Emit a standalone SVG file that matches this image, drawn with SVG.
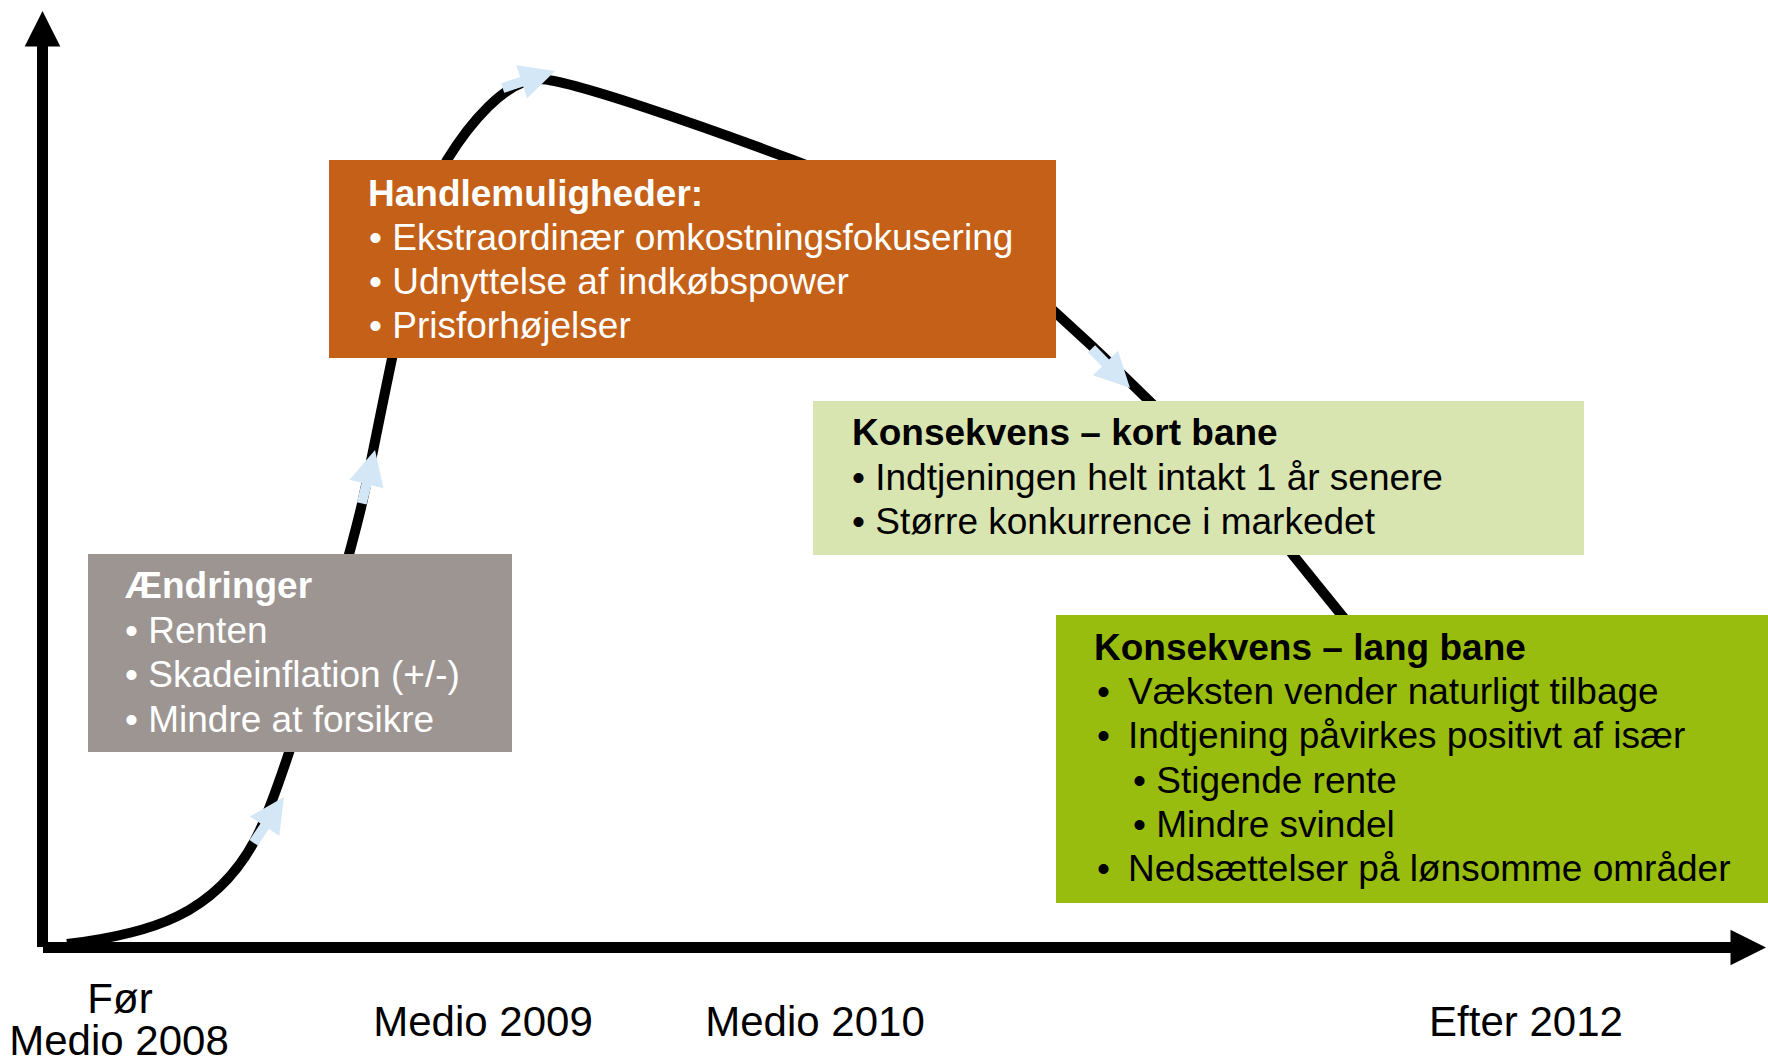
<svg xmlns="http://www.w3.org/2000/svg" xmlns:xlink="http://www.w3.org/1999/xlink" width="1768" height="1062" viewBox="0 0 1768 1062">
  <style>
    text { font-family: "Liberation Sans", Arial, "Noto Sans", sans-serif; }
    .box { font-size: 37px; }
    .title { font-weight: bold; }
    .w { fill: #FFFFFF; }
    .k { fill: #000000; }
    .axislbl { font-size: 42px; fill: #000000; text-anchor: middle; }
    .axis { stroke: #000000; stroke-width: 11; fill: none; }
    .curve { stroke: #000000; stroke-width: 10; fill: none; stroke-linejoin: round; }
    .flow { fill: #D4E7F6; }
  </style>
  <defs>
    <polygon id="flowArrow" points="0,0 -35,-17.5 -35,-5 -55,-5 -55,5 -35,5 -35,17.5"/>
  </defs>
  <rect width="1768" height="1062" fill="#FFFFFF"/>

  <g id="connectors">
    <g id="axes">
      <line class="axis" x1="42.5" y1="46" x2="42.5" y2="947"/>
      <polygon points="42.5,11 24.7,46.5 60.3,46.5" fill="#000000"/>
      <line class="axis" x1="43" y1="947.5" x2="1731" y2="947.5"/>
      <polygon points="1766,947.5 1730.5,929.8 1730.5,965.2" fill="#000000"/>
    </g>
    <path id="curve" class="curve" d="M 67 944 C 150 934, 215 915, 255 840 C 280 795, 342 586, 361 508 C 375 450, 416 212, 447 160 C 468 126, 505 79, 540 79 C 570 80, 700 125, 793 160 C 900 200, 1000 262, 1056 313 C 1150 398, 1260 510, 1293 555 L 1352 628"/>
    <g id="flow-arrows" class="flow">
      <use xlink:href="#flowArrow" href="#flowArrow" transform="translate(284,797) rotate(-56.5)"/>
      <use xlink:href="#flowArrow" href="#flowArrow" transform="translate(375,450) rotate(-76)"/>
      <use xlink:href="#flowArrow" href="#flowArrow" transform="translate(555,71) rotate(-18)"/>
      <use xlink:href="#flowArrow" href="#flowArrow" transform="translate(1130,388) rotate(45.6)"/>
    </g>
  </g>

  <g id="node-aendringer">
    <rect x="88" y="554" width="424" height="198" fill="#9D9592"/>
    <text class="box title w" x="125" y="598">Ændringer</text>
    <text class="box w" x="125" y="643">• Renten</text>
    <text class="box w" x="125" y="687">• Skadeinflation (+/-)</text>
    <text class="box w" x="125" y="732">• Mindre at forsikre</text>
  </g>

  <g id="node-handlemuligheder">
    <rect x="329" y="160" width="727" height="198" fill="#C46017"/>
    <text class="box title w" x="368" y="206">Handlemuligheder:</text>
    <text class="box w" x="369" y="250">• Ekstraordinær omkostningsfokusering</text>
    <text class="box w" x="369" y="294">• Udnyttelse af indkøbspower</text>
    <text class="box w" x="369" y="338">• Prisforhøjelser</text>
  </g>

  <g id="node-kort-bane">
    <rect x="813" y="401" width="771" height="154" fill="#D9E5B1"/>
    <text class="box title k" x="852" y="445">Konsekvens – kort bane</text>
    <text class="box k" x="852" y="490">• Indtjeningen helt intakt 1 år senere</text>
    <text class="box k" x="852" y="534">• Større konkurrence i markedet</text>
  </g>

  <g id="node-lang-bane">
    <rect x="1056" y="615" width="712" height="288" fill="#98BD0F"/>
    <text class="box title k" x="1094" y="660">Konsekvens – lang bane</text>
    <text class="box k" x="1097" y="704">•</text>
    <text class="box k" x="1128" y="704">Væksten vender naturligt tilbage</text>
    <text class="box k" x="1097" y="748">•</text>
    <text class="box k" x="1128" y="748">Indtjening påvirkes positivt af især</text>
    <text class="box k" x="1133" y="793">• Stigende rente</text>
    <text class="box k" x="1133" y="837">• Mindre svindel</text>
    <text class="box k" x="1097" y="881">•</text>
    <text class="box k" x="1128" y="881">Nedsættelser på lønsomme områder</text>
  </g>

  <g id="axis-labels">
    <text class="axislbl"><tspan x="120" y="1013">Før</tspan><tspan x="119" y="1055">Medio 2008</tspan></text>
    <text class="axislbl" x="483" y="1036">Medio 2009</text>
    <text class="axislbl" x="815" y="1036">Medio 2010</text>
    <text class="axislbl" x="1526" y="1036">Efter 2012</text>
  </g>
</svg>
